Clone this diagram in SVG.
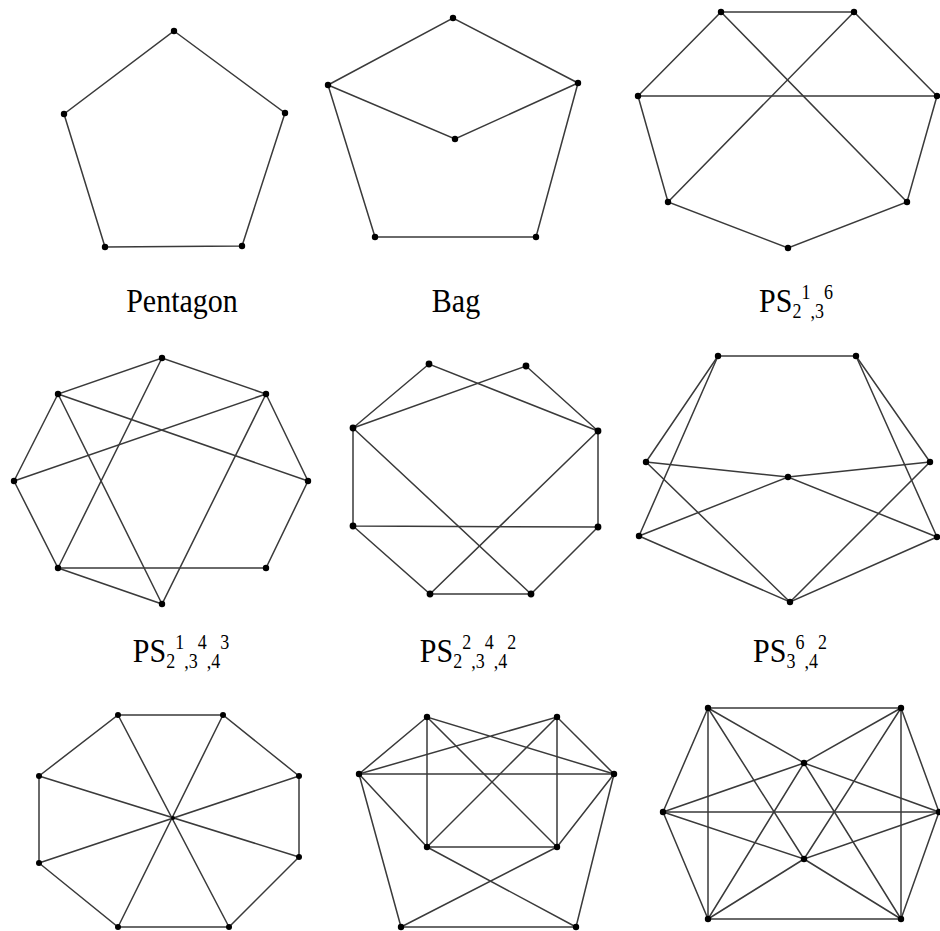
<svg xmlns="http://www.w3.org/2000/svg" width="940" height="931" viewBox="0 0 940 931">
<style>
.e{stroke:#3a3a3a;stroke-width:1.5;fill:none;stroke-linecap:round}
.n{fill:#000}
.lbl{font-family:"Liberation Serif","Times New Roman",serif;font-size:30px;fill:#000;text-anchor:middle}
.s{font-size:18px}
</style>
<rect width="940" height="931" fill="#fff"/>

<!-- Graph 1: Pentagon -->
<g id="connectors-pentagon" class="e">
<polygon points="174,31 285,113 242,246 105,247 64,114"/>
</g>
<g id="pentagon-nodes" class="n">
<g id="p1"><circle cx="174" cy="31" r="3.2"/></g>
<g id="p2"><circle cx="285" cy="113" r="3.2"/></g>
<g id="p3"><circle cx="242" cy="246" r="3.2"/></g>
<g id="p4"><circle cx="105" cy="247" r="3.2"/></g>
<g id="p5"><circle cx="64" cy="114" r="3.2"/></g>
</g>
<text class="lbl" transform="translate(182,312) scale(1,1.12)">Pentagon</text>

<!-- Graph 2: Bag -->
<g id="connectors-bag" class="e">
<polyline points="328,85 453,18 578,83"/>
<polyline points="328,85 455,139 578,83"/>
<polyline points="328,85 375,237 536,237 578,83"/>
</g>
<g id="bag-nodes" class="n">
<g id="b1"><circle cx="453" cy="18" r="3.2"/></g>
<g id="b2"><circle cx="328" cy="85" r="3.2"/></g>
<g id="b3"><circle cx="578" cy="83" r="3.2"/></g>
<g id="b4"><circle cx="455" cy="139" r="3.2"/></g>
<g id="b5"><circle cx="375" cy="237" r="3.2"/></g>
<g id="b6"><circle cx="536" cy="237" r="3.2"/></g>
</g>
<text class="lbl" transform="translate(456,312) scale(1,1.12)">Bag</text>

<!-- Graph 3 -->
<g id="connectors-g3" class="e">
<polyline points="638,96 721,12 854,12 937,96"/>
<line x1="638" y1="96" x2="937" y2="96"/>
<line x1="721" y1="12" x2="907" y2="202"/>
<line x1="854" y1="12" x2="668" y2="202"/>
<polyline points="638,96 668,202 788,248 907,202 937,96"/>
</g>
<g id="g3-nodes" class="n">
<g id="c1"><circle cx="721" cy="12" r="3.2"/></g>
<g id="c2"><circle cx="854" cy="12" r="3.2"/></g>
<g id="c3"><circle cx="638" cy="96" r="3.2"/></g>
<g id="c4"><circle cx="937" cy="96" r="3.2"/></g>
<g id="c5"><circle cx="668" cy="202" r="3.2"/></g>
<g id="c6"><circle cx="907" cy="202" r="3.2"/></g>
<g id="c7"><circle cx="788" cy="248" r="3.2"/></g>
</g>
<text class="lbl" transform="translate(796,312) scale(1,1.12)">PS<tspan class="s" dy="5">2</tspan><tspan class="s" dy="-17">1</tspan><tspan class="s" dy="17">,3</tspan><tspan class="s" dy="-17">6</tspan></text>

<!-- Graph 4 -->
<g id="connectors-g4" class="e">
<polyline points="14,481 58,394 162,358 266,394 308,481 266,568 58,568 14,481"/>
<polyline points="58,568 162,604 266,394"/>
<line x1="162" y1="358" x2="58" y2="568"/>
<line x1="58" y1="394" x2="308" y2="481"/>
<line x1="14" y1="481" x2="266" y2="394"/>
<line x1="58" y1="394" x2="162" y2="604"/>
</g>
<g id="g4-nodes" class="n">
<g id="d1"><circle cx="162" cy="358" r="3.2"/></g>
<g id="d2"><circle cx="58" cy="394" r="3.2"/></g>
<g id="d3"><circle cx="266" cy="394" r="3.2"/></g>
<g id="d4"><circle cx="14" cy="481" r="3.2"/></g>
<g id="d5"><circle cx="308" cy="481" r="3.2"/></g>
<g id="d6"><circle cx="58" cy="568" r="3.2"/></g>
<g id="d7"><circle cx="266" cy="568" r="3.2"/></g>
<g id="d8"><circle cx="162" cy="604" r="3.2"/></g>
</g>
<text class="lbl" transform="translate(181,662) scale(1,1.12)">PS<tspan class="s" dy="5">2</tspan><tspan class="s" dy="-17">1</tspan><tspan class="s" dy="17">,3</tspan><tspan class="s" dy="-17">4</tspan><tspan class="s" dy="17">,4</tspan><tspan class="s" dy="-17">3</tspan></text>

<!-- Graph 5 -->
<g id="connectors-g5" class="e">
<polyline points="598,431 429,364 353,428 526,366 598,431"/>
<polyline points="353,428 353,526 598,527 598,431"/>
<line x1="353" y1="428" x2="531" y2="594"/>
<line x1="598" y1="431" x2="430" y2="594"/>
<polyline points="353,526 430,594 531,594 598,527"/>
</g>
<g id="g5-nodes" class="n">
<g id="f1"><circle cx="429" cy="364" r="3.4"/></g>
<g id="f2"><circle cx="526" cy="366" r="3.4"/></g>
<g id="f3"><circle cx="353" cy="428" r="3.4"/></g>
<g id="f4"><circle cx="598" cy="431" r="3.4"/></g>
<g id="f5"><circle cx="353" cy="526" r="3.4"/></g>
<g id="f6"><circle cx="598" cy="527" r="3.4"/></g>
<g id="f7"><circle cx="430" cy="594" r="3.4"/></g>
<g id="f8"><circle cx="531" cy="594" r="3.4"/></g>
</g>
<text class="lbl" transform="translate(468,662) scale(1,1.12)">PS<tspan class="s" dy="5">2</tspan><tspan class="s" dy="-17">2</tspan><tspan class="s" dy="17">,3</tspan><tspan class="s" dy="-17">4</tspan><tspan class="s" dy="17">,4</tspan><tspan class="s" dy="-17">2</tspan></text>

<!-- Graph 6 -->
<g id="connectors-g6" class="e">
<polyline points="646,462 718,356 856,356 930,462"/>
<line x1="718" y1="356" x2="639" y2="536"/>
<line x1="856" y1="356" x2="937" y2="537"/>
<polyline points="646,462 788,477 930,462"/>
<polyline points="646,462 790,602 930,462"/>
<polyline points="639,536 788,477 937,537"/>
<polyline points="639,536 790,602 937,537"/>
</g>
<g id="g6-nodes" class="n">
<g id="h1"><circle cx="718" cy="356" r="3.2"/></g>
<g id="h2"><circle cx="856" cy="356" r="3.2"/></g>
<g id="h3"><circle cx="646" cy="462" r="3.2"/></g>
<g id="h4"><circle cx="930" cy="462" r="3.2"/></g>
<g id="h5"><circle cx="788" cy="477" r="3.2"/></g>
<g id="h6"><circle cx="639" cy="536" r="3.2"/></g>
<g id="h7"><circle cx="937" cy="537" r="3.2"/></g>
<g id="h8"><circle cx="790" cy="602" r="3.2"/></g>
</g>
<text class="lbl" transform="translate(790,662) scale(1,1.12)">PS<tspan class="s" dy="5">3</tspan><tspan class="s" dy="-17">6</tspan><tspan class="s" dy="17">,4</tspan><tspan class="s" dy="-17">2</tspan></text>

<!-- Graph 7 -->
<g id="connectors-g7" class="e">
<polygon points="118,715 223,715 299,776 299,857 229,927 118,927 39,863 39,776"/>
<line x1="118" y1="715" x2="229" y2="927"/>
<line x1="223" y1="715" x2="118" y2="927"/>
<line x1="39" y1="776" x2="299" y2="857"/>
<line x1="299" y1="776" x2="39" y2="863"/>
</g>
<g id="g7-nodes" class="n">
<g id="k1"><circle cx="118" cy="715" r="3"/></g>
<g id="k2"><circle cx="223" cy="715" r="3"/></g>
<g id="k3"><circle cx="299" cy="776" r="3"/></g>
<g id="k4"><circle cx="299" cy="857" r="3"/></g>
<g id="k5"><circle cx="229" cy="927" r="3"/></g>
<g id="k6"><circle cx="118" cy="927" r="3"/></g>
<g id="k7"><circle cx="39" cy="863" r="3"/></g>
<g id="k8"><circle cx="39" cy="776" r="3"/></g>
<g id="k9"><circle cx="173" cy="818" r="2"/></g>
</g>

<!-- Graph 8 -->
<g id="connectors-g8" class="e">
<polyline points="614,774 427,717 359,774 557,717 614,774"/>
<line x1="359" y1="774" x2="614" y2="774"/>
<line x1="427" y1="717" x2="427" y2="847"/>
<line x1="557" y1="717" x2="557" y2="847"/>
<line x1="427" y1="717" x2="557" y2="847"/>
<line x1="557" y1="717" x2="427" y2="847"/>
<polyline points="359,774 427,847 557,847 614,774"/>
<polyline points="359,774 401,927 576,927 614,774"/>
<line x1="427" y1="847" x2="576" y2="927"/>
<line x1="557" y1="847" x2="401" y2="927"/>
</g>
<g id="g8-nodes" class="n">
<g id="m1"><circle cx="427" cy="717" r="3.2"/></g>
<g id="m2"><circle cx="557" cy="717" r="3.2"/></g>
<g id="m3"><circle cx="359" cy="774" r="3.2"/></g>
<g id="m4"><circle cx="614" cy="774" r="3.2"/></g>
<g id="m5"><circle cx="427" cy="847" r="3.2"/></g>
<g id="m6"><circle cx="557" cy="847" r="3.2"/></g>
<g id="m7"><circle cx="401" cy="927" r="3.2"/></g>
<g id="m8"><circle cx="576" cy="927" r="3.2"/></g>
</g>

<!-- Graph 9 -->
<g id="connectors-g9" class="e">
<polygon points="708,708 901,708 939,812 901,919 708,919 663,812"/>
<line x1="708" y1="708" x2="708" y2="919"/>
<line x1="901" y1="708" x2="901" y2="919"/>
<line x1="663" y1="812" x2="939" y2="812"/>
<polyline points="663,812 804,763 939,812 804,859 663,812"/>
<polyline points="708,708 804,763 901,708"/>
<polyline points="708,919 804,859 901,919"/>
<polyline points="708,708 804,859 901,708"/>
<polyline points="708,919 804,763 901,919"/>
</g>
<g id="g9-nodes" class="n">
<g id="q1"><circle cx="708" cy="708" r="3.2"/></g>
<g id="q2"><circle cx="901" cy="708" r="3.2"/></g>
<g id="q3"><circle cx="663" cy="812" r="3.2"/></g>
<g id="q4"><circle cx="939" cy="812" r="3.2"/></g>
<g id="q5"><circle cx="804" cy="763" r="3.2"/></g>
<g id="q6"><circle cx="804" cy="859" r="3.2"/></g>
<g id="q7"><circle cx="708" cy="919" r="3.2"/></g>
<g id="q8"><circle cx="901" cy="919" r="3.2"/></g>
</g>
</svg>
